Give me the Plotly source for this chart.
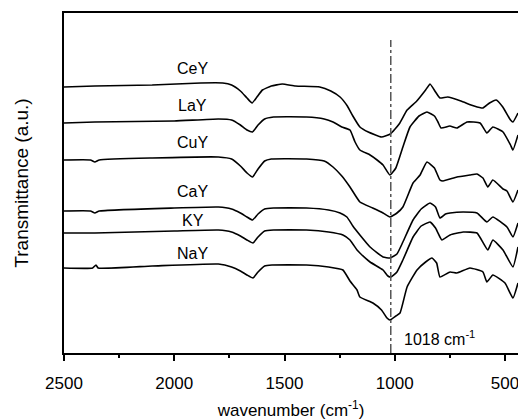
import plotly.graph_objects as go

# Wavenumbers (cm^-1) and transmittance (a.u., offset stacked)
CeY_w = [2500, 2360, 2100, 1880, 1780, 1740, 1700, 1670, 1647, 1625, 1600, 1560, 1510, 1450, 1340, 1290, 1248, 1215, 1190, 1158, 1120, 1060, 1020, 980, 944, 900, 860, 840, 815, 795, 760, 700, 640, 600, 570, 540, 510, 475, 464, 441]
CeY_t = [266, 267, 268, 270, 270, 268, 262, 255, 250, 256, 263, 267, 269, 267, 266, 262, 256, 247, 237, 226, 221, 216, 219, 229, 243, 252, 263, 269, 261, 255, 256, 252, 247, 245, 250, 253, 246, 233, 231, 240]

LaY_w = [2500, 2360, 2000, 1800, 1740, 1700, 1670, 1645, 1620, 1590, 1550, 1400, 1320, 1280, 1240, 1203, 1180, 1158, 1112, 1080, 1053, 1022, 995, 963, 931, 890, 854, 820, 804, 790, 750, 718, 672, 613, 582, 555, 509, 475, 464, 441]
LaY_t = [230, 231, 232, 234, 233, 228, 223, 221, 228, 234, 236, 236, 234, 231, 226, 223, 211, 203, 198, 193, 188, 178, 185, 206, 226, 237, 241, 237, 231, 225, 227, 225, 231, 230, 220, 226, 221, 208, 203, 218]

CuY_w = [2500, 2380, 2360, 2340, 2100, 1800, 1740, 1700, 1670, 1645, 1620, 1590, 1560, 1400, 1320, 1280, 1240, 1203, 1158, 1100, 1053, 1022, 990, 963, 917, 885, 854, 820, 795, 781, 718, 659, 627, 600, 578, 555, 509, 491, 464, 441]
CuY_t = [193, 193, 191, 193, 195, 196, 194, 187, 180, 176, 184, 192, 194, 194, 192, 186, 177, 166, 151, 145, 140, 136, 140, 146, 170, 178, 191, 185, 173, 172, 176, 178, 179, 175, 166, 173, 164, 162, 151, 163]

CaY_w = [2500, 2380, 2360, 2340, 2000, 1800, 1740, 1700, 1670, 1645, 1620, 1590, 1550, 1400, 1300, 1248, 1217, 1190, 1158, 1112, 1053, 1022, 990, 963, 917, 880, 840, 815, 795, 770, 749, 690, 627, 582, 555, 491, 464, 441]
CaY_t = [142, 142, 140, 142, 145, 146, 144, 140, 136, 133, 139, 144, 145, 145, 143, 140, 136, 127, 118, 106, 96, 95, 99, 111, 133, 144, 150, 146, 135, 139, 140, 141, 140, 131, 136, 126, 116, 130]

KY_w = [2500, 2360, 2000, 1800, 1740, 1700, 1670, 1643, 1620, 1590, 1550, 1400, 1300, 1235, 1203, 1171, 1158, 1112, 1053, 1031, 1018, 990, 963, 917, 880, 840, 815, 795, 786, 749, 690, 627, 578, 555, 509, 464, 441]
KY_t = [120, 120, 122, 123, 121, 117, 113, 110, 116, 122, 123, 123, 121, 118, 113, 103, 100, 91, 83, 77, 76, 81, 93, 116, 127, 131, 125, 116, 113, 118, 121, 120, 103, 113, 103, 86, 106]

NaY_w = [2500, 2370, 2355, 2345, 2100, 1800, 1740, 1700, 1670, 1643, 1620, 1590, 1557, 1400, 1300, 1235, 1203, 1171, 1158, 1099, 1060, 1035, 1022, 995, 976, 944, 899, 860, 831, 810, 795, 749, 718, 659, 600, 582, 555, 500, 464, 441]
NaY_t = [85, 85, 88, 85, 87, 89, 86, 82, 78, 75, 81, 87, 88, 88, 86, 83, 72, 63, 56, 50, 43, 35, 33, 37, 40, 66, 83, 91, 95, 90, 76, 81, 80, 85, 81, 71, 78, 70, 55, 70]

names = ["CeY", "LaY", "CuY", "CaY", "KY", "NaY"]
series_w = [CeY_w, LaY_w, CuY_w, CaY_w, KY_w, NaY_w]
series_t = [CeY_t, LaY_t, CuY_t, CaY_t, KY_t, NaY_t]
label_w = [1915, 1915, 1915, 1915, 1915, 1915]
label_t = [285, 248, 211, 162, 133, 100]

peak_w = 1018
x_ticks = [2500, 2000, 1500, 1000, 500]

FONT = "Liberation Sans, Arial, sans-serif"

fig = go.Figure()
for n, w, t in zip(names, series_w, series_t):
    fig.add_trace(go.Scatter(x=w, y=t, mode="lines", name=n,
                             line=dict(color="black", width=1.6, shape="spline", smoothing=0.4),
                             showlegend=False, hoverinfo="skip"))

for n, lw, lt in zip(names, label_w, label_t):
    fig.add_annotation(x=lw, y=lt, text=n, showarrow=False,
                       font=dict(size=16, color="black", family=FONT))

fig.add_shape(type="line", x0=peak_w, x1=peak_w, y0=0, y1=313, xref="x", yref="y",
              line=dict(color="#555555", width=1.5, dash="dashdot"))

fig.add_annotation(x=965, y=15, text="1018 cm<sup>-1</sup>", showarrow=False, xanchor="left",
                   font=dict(size=16, color="black", family=FONT))

fig.update_layout(
    width=518, height=420,
    margin=dict(l=64, r=0, t=13, b=67),
    plot_bgcolor="white", paper_bgcolor="white",
    font=dict(family=FONT, color="black"),
    xaxis=dict(range=[2500, 441], tickvals=x_ticks, ticks="outside", ticklen=6, tickwidth=1.5,
               tickcolor="black", showline=True, linecolor="black", linewidth=1.8, mirror=True,
               showgrid=False, zeroline=False, tickfont=dict(size=17, family=FONT),
               ticklabeloverflow="allow", ticklabelstandoff=8,
               minor=dict(tickvals=[2250, 1750, 1250, 750], ticks="outside", ticklen=3,
                          tickwidth=1.5, tickcolor="black"),
               title=dict(text="wavenumber (cm<sup>-1</sup>)", font=dict(size=17, family=FONT), standoff=15)),
    yaxis=dict(range=[0, 340], showticklabels=False, ticks="", showline=True, linecolor="black",
               linewidth=1.8, showgrid=False, zeroline=False,
               title=dict(text="Transmittance (a.u.)", font=dict(size=19, family=FONT), standoff=28)),
)

fig.write_html("out.html")
